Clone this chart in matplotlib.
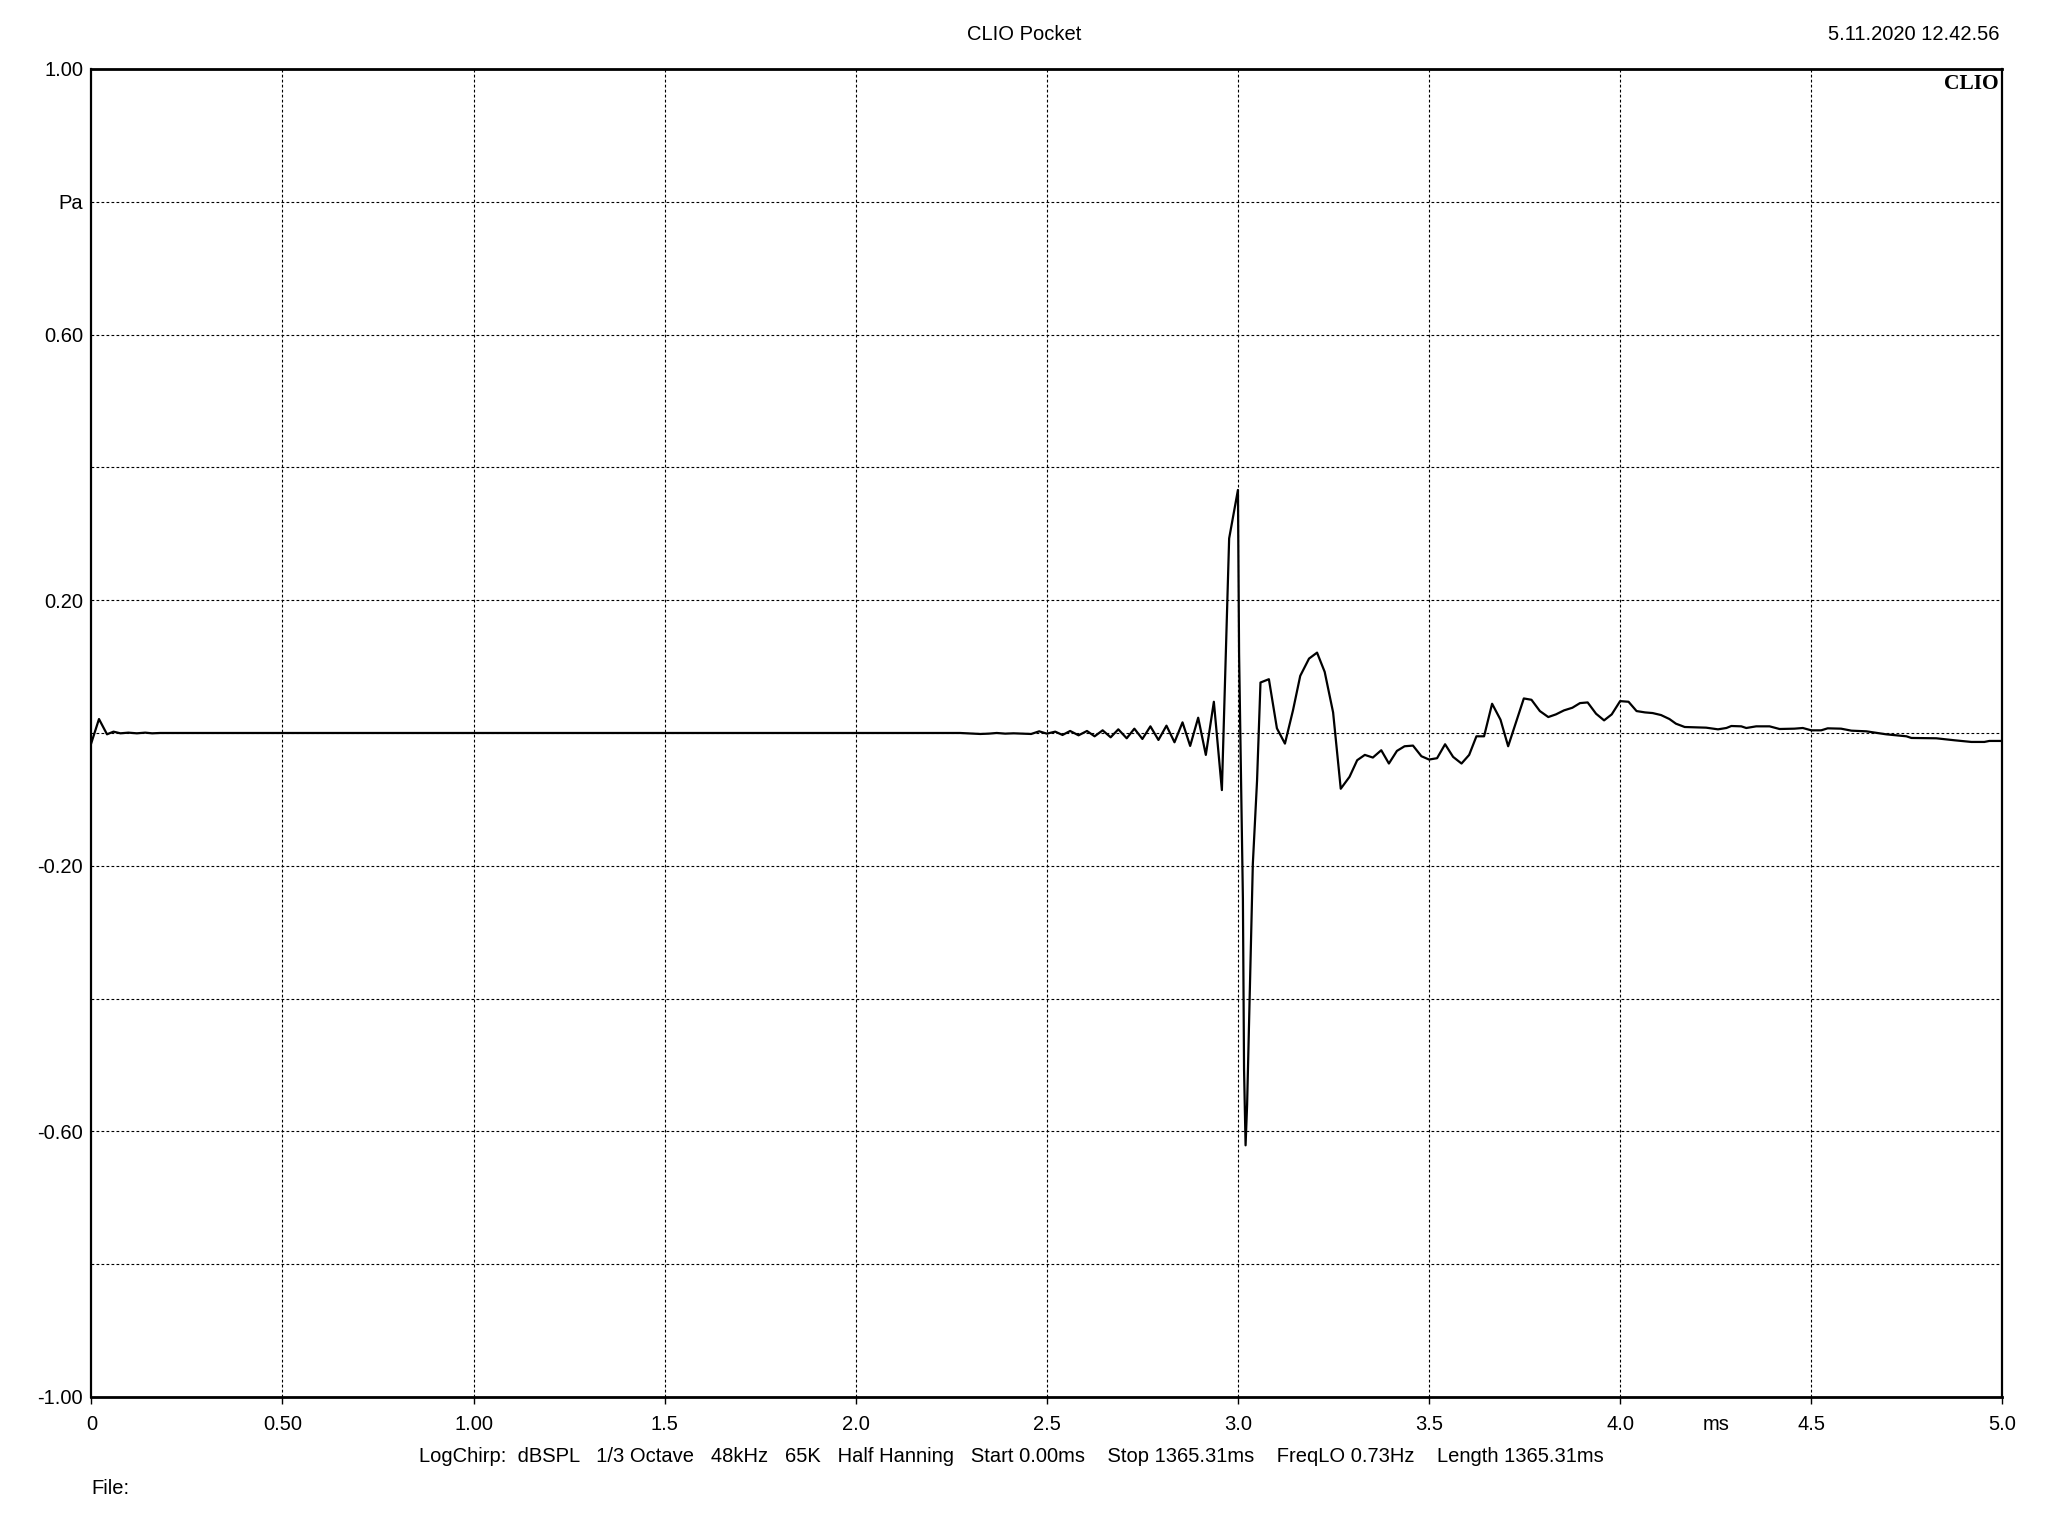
import matplotlib
matplotlib.use("Agg")
import matplotlib.pyplot as plt

plt.rcParams['font.family'] = ['Liberation Sans', 'DejaVu Sans']

# impulse response, time in ms, pressure in Pa
time_ms = [0.000, 0.020, 0.041, 0.058, 0.076, 0.097, 0.119, 0.141, 0.159, 0.180,
           2.273, 2.326, 2.348, 2.369, 2.391, 2.413, 2.435, 2.459, 2.480, 2.500,
           2.522, 2.541, 2.561, 2.583, 2.605, 2.625, 2.646, 2.667, 2.687, 2.709,
           2.729, 2.750, 2.771, 2.792, 2.813, 2.834, 2.855, 2.875, 2.896, 2.916,
           2.937, 2.958, 2.977, 3.000, 3.003, 3.013, 3.016, 3.020, 3.024, 3.031,
           3.039, 3.050, 3.059, 3.081, 3.102, 3.123, 3.144, 3.163, 3.186, 3.207,
           3.227, 3.249, 3.269, 3.292, 3.312, 3.332, 3.353, 3.375, 3.395, 3.416,
           3.436, 3.458, 3.480, 3.500, 3.521, 3.542, 3.563, 3.585, 3.605, 3.624,
           3.644, 3.665, 3.687, 3.707, 3.727, 3.748, 3.768, 3.790, 3.812, 3.832,
           3.853, 3.875, 3.895, 3.915, 3.937, 3.958, 3.978, 4.000, 4.022, 4.043,
           4.065, 4.085, 4.107, 4.129, 4.146, 4.169, 4.225, 4.256, 4.278, 4.291,
           4.317, 4.330, 4.356, 4.391, 4.417, 4.456, 4.478, 4.500, 4.526, 4.543,
           4.578, 4.605, 4.644, 4.696, 4.749, 4.762, 4.827, 4.875, 4.919, 4.953,
           4.966, 5.000]
pressure = [-0.015, 0.021, -0.002, 0.002, -0.0005, 0.0005, -0.0005, 0.0005, -0.0005, 0.0,
            0.0, -0.0015, -0.001, 0.0, -0.001, -0.0005, -0.001, -0.0015, 0.0025, -0.001,
            0.002, -0.003, 0.003, -0.0035, 0.003, -0.005, 0.004, -0.0065, 0.0055, -0.008,
            0.0065, -0.009, 0.010, -0.0105, 0.011, -0.014, 0.016, -0.0195, 0.023, -0.033,
            0.047, -0.086, 0.293, 0.366, 0.12, -0.25, -0.507, -0.621, -0.56, -0.39,
            -0.197, -0.072, 0.076, 0.081, 0.007, -0.016, 0.034, 0.086, 0.112, 0.121,
            0.092, 0.031, -0.084, -0.066, -0.041, -0.033, -0.037, -0.026, -0.046, -0.027,
            -0.020, -0.019, -0.035, -0.040, -0.038, -0.017, -0.036, -0.046, -0.033, -0.005,
            -0.005, 0.044, 0.020, -0.020, 0.015, 0.052, 0.050, 0.033, 0.024, 0.028,
            0.034, 0.038, 0.045, 0.046, 0.029, 0.019, 0.028, 0.048, 0.047, 0.033,
            0.031, 0.030, 0.027, 0.021, 0.014, 0.009, 0.008, 0.0055, 0.0075, 0.0105,
            0.010, 0.0075, 0.010, 0.010, 0.006, 0.0065, 0.0075, 0.004, 0.004, 0.007,
            0.0065, 0.0035, 0.0025, -0.002, -0.005, -0.0075, -0.008, -0.011, -0.0135, -0.0135,
            -0.012, -0.012]

x_ticks = [0, 0.5, 1.0, 1.5, 2.0, 2.5, 3.0, 3.5, 4.0, 4.5, 5.0]
x_labels = ['0', '0.50', '1.00', '1.5', '2.0', '2.5', '3.0', '3.5', '4.0', '4.5', '5.0']
y_grid = [-1.0, -0.8, -0.6, -0.4, -0.2, 0.0, 0.2, 0.4, 0.6, 0.8, 1.0]
y_labels = {1.0: '1.00', 0.8: 'Pa', 0.6: '0.60', 0.2: '0.20', -0.2: '-0.20', -0.6: '-0.60', -1.0: '-1.00'}

info_line = ("LogChirp:  dBSPL   1/3 Octave   48kHz   65K   Half Hanning   Start 0.00ms    "
             "Stop 1365.31ms    FreqLO 0.73Hz    Length 1365.31ms")

FS = 14.5

fig = plt.figure(figsize=(20.48, 15.36), dpi=100)
ax = fig.add_axes([0.0446, 0.0905, 0.9331, 0.8646])

ax.plot(time_ms, pressure, color='black', lw=1.6, zorder=3)

ax.set_xlim(0, 5)
ax.set_ylim(-1, 1)

# dotted grid
for x in x_ticks[1:-1]:
    ax.axvline(x, color='black', lw=0.8, ls=(0, (2.5, 2)), zorder=1)
for y in y_grid[1:-1]:
    ax.axhline(y, color='black', lw=0.8, ls=(0, (2.5, 2)), zorder=1)

ax.set_xticks(x_ticks)
ax.set_xticklabels(x_labels, fontsize=FS)
ax.tick_params(axis='x', direction='out', length=5, width=1, pad=8)
ax.set_yticks(list(y_labels.keys()))
ax.set_yticklabels(list(y_labels.values()), fontsize=FS)
ax.tick_params(axis='y', length=0, pad=6)

for side in ['top', 'bottom']:
    ax.spines[side].set_linewidth(2.0)
for side in ['left', 'right']:
    ax.spines[side].set_linewidth(1.6)

# unit label sits in the x tick row
ax.annotate('ms', xy=(4.25, 0), xycoords=('data', 'axes fraction'),
            xytext=(0, -13), textcoords='offset points', ha='center', va='top', fontsize=FS)

# CLIO logo inside the plot, top right
ax.text(0.998, 0.996, 'CLIO', transform=ax.transAxes, ha='right', va='top',
        fontsize=15.5, fontweight='bold', family=['Liberation Serif', 'DejaVu Serif'])

fig.text(1024 / 2048, 1 - 35 / 1536, 'CLIO Pocket', ha='center', va='center', fontsize=FS)
fig.text(2000 / 2048, 1 - 35 / 1536, '5.11.2020 12.42.56', ha='right', va='center', fontsize=FS)
fig.text(1011 / 2048, 1 - 1456 / 1536, info_line, ha='center', va='center', fontsize=FS)
fig.text(91 / 2048, 1 - 1489 / 1536, 'File:', ha='left', va='center', fontsize=FS)

fig.savefig('out.png', dpi=100, facecolor='white')
